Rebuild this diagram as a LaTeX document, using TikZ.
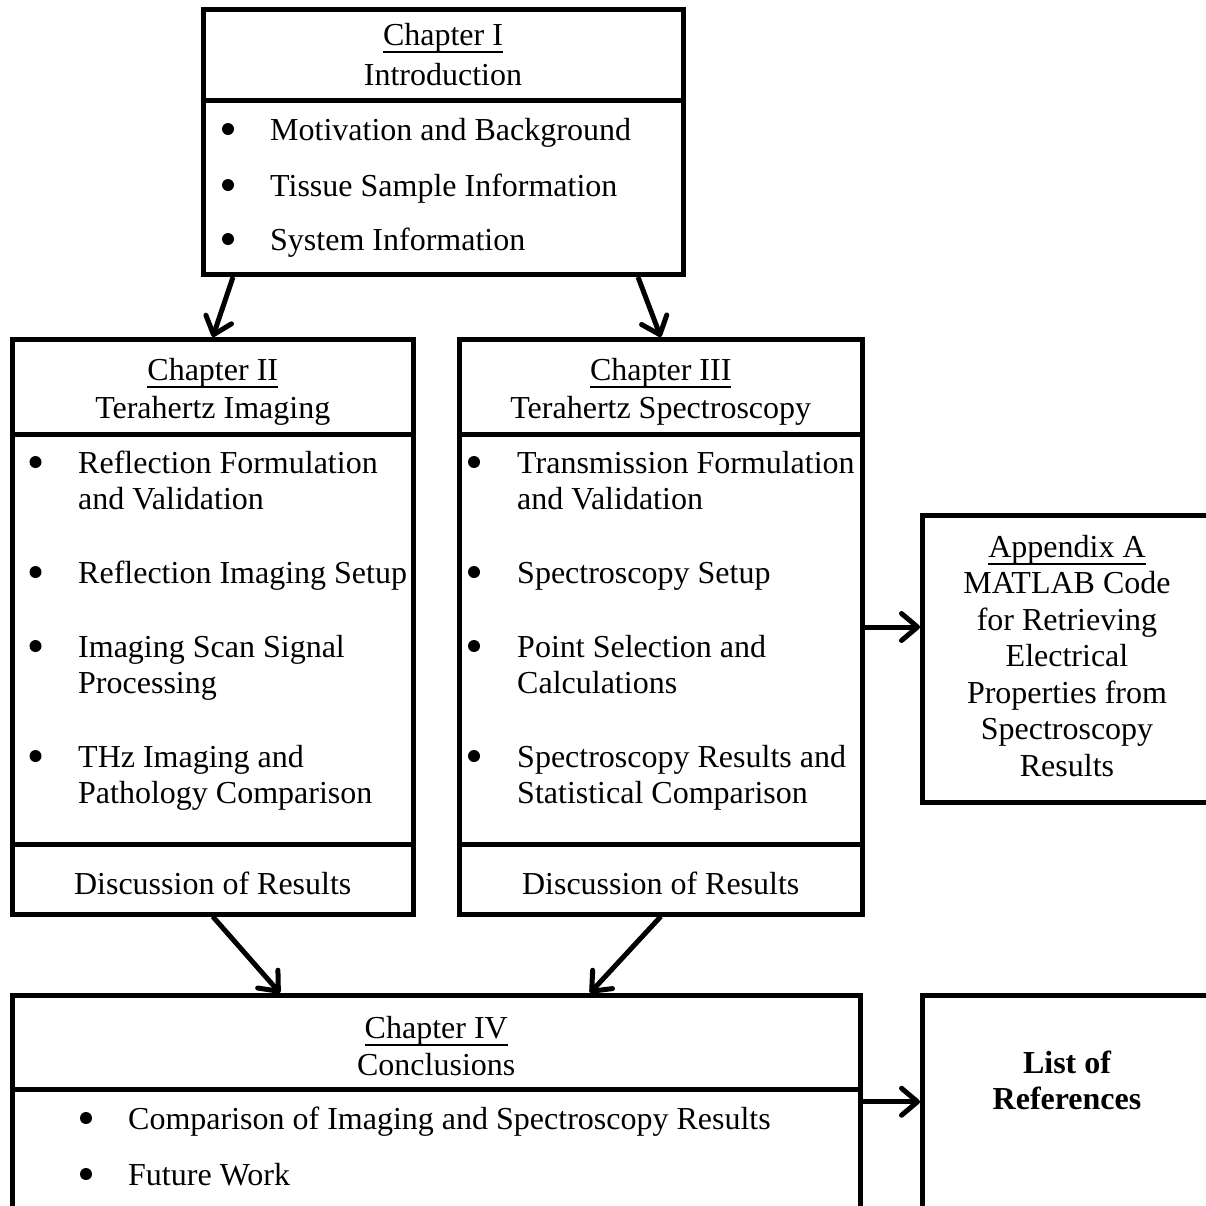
\documentclass[tikz,border=0pt]{standalone}
\usepackage{fontspec}
\setmainfont{Liberation Serif}
\usetikzlibrary{arrows.meta,calc}
\newlength\ulw
\newcommand\myul[1]{\settowidth\ulw{#1}\rlap{\rule[-7.5pt]{\ulw}{2pt}}#1}
\newcommand\mlines[2][l]{\begin{tabular}[t]{@{}#1@{}}#2\end{tabular}}
\begin{document}
\begin{tikzpicture}[x=1pt,y=-1pt,
  box/.style={draw, line width=5pt, rectangle, inner sep=0pt},
  sepline/.style={line width=5pt},
  txt/.style={inner sep=0pt, anchor=base, font=\fontsize{32}{36.5}\selectfont},
  dot/.style={circle, fill, inner sep=0pt, minimum size=12pt},
  itm/.style={txt, anchor=base west},
  arr/.style={line width=5pt, -{Straight Barb[length=16pt,width=27pt,line cap=round,line join=round]}}]
\path[use as bounding box, fill=white] (0,0) rectangle (1206,1205);
\clip (0,0) rectangle (1206,1205);

% boxes
\node[box, minimum width=480pt, minimum height=265pt] (ch1) at (443,142) {};
\node[box, minimum width=401.5pt, minimum height=574.5pt] (ch2) at (212.75,626.75) {};
\node[box, minimum width=402.5pt, minimum height=574.5pt] (ch3) at (660.75,626.75) {};
\node[box, minimum width=286pt, minimum height=287pt] (appx) at (1065.5,659) {};
\node[box, minimum width=848.5pt, minimum height=212.5pt] (ch4) at (436.25,1101.75) {};
\node[box, minimum width=286pt, minimum height=212.5pt] (refs) at (1065.5,1101.75) {};

% separator levels
\coordinate (s1) at (0,100);
\coordinate (s2) at (0,434.5);
\coordinate (s3) at (0,844);
\coordinate (s4) at (0,1089.5);
\coordinate (yA) at (0,627);
\draw[sepline] (ch1.west |- s1) -- (ch1.east |- s1);
\draw[sepline] (ch2.west |- s2) -- (ch2.east |- s2);
\draw[sepline] (ch2.west |- s3) -- (ch2.east |- s3);
\draw[sepline] (ch3.west |- s2) -- (ch3.east |- s2);
\draw[sepline] (ch3.west |- s3) -- (ch3.east |- s3);
\draw[sepline] (ch4.west |- s4) -- (ch4.east |- s4);

% Chapter I
\node[txt] (t1a) at (443,45) {\myul{Chapter I}};
\node[txt] (t1b) at (443,85) {Introduction};
\node[dot] (b1a) at (228,129) {};
\node[itm] (i1a) at (270,140) {Motivation and Background};
\node[dot] (b1b) at (228,185) {};
\node[itm] (i1b) at (270,196) {Tissue Sample Information};
\node[dot] (b1c) at (228,239) {};
\node[itm] (i1c) at (270,250) {System Information};

% Chapter II
\node[txt] (t2a) at (212.75,380) {\myul{Chapter II}};
\node[txt] (t2b) at (212.75,418) {Terahertz Imaging};
\node[dot] (b2a) at (35.5,462) {};
\node[itm] (i2a) at (78,473) {\mlines{Reflection Formulation\\and Validation}};
\node[dot] (b2b) at (35.5,572) {};
\node[itm] (i2b) at (78,583) {Reflection Imaging Setup};
\node[dot] (b2c) at (35.5,646) {};
\node[itm] (i2c) at (78,657) {\mlines{Imaging Scan Signal\\Processing}};
\node[dot] (b2d) at (35.5,756) {};
\node[itm] (i2d) at (78,767) {\mlines{THz Imaging and\\Pathology Comparison}};
\node[txt] (t2c) at (212.75,894) {Discussion of Results};

% Chapter III
\node[txt] (t3a) at (660.75,380) {\myul{Chapter III}};
\node[txt] (t3b) at (660.75,418) {Terahertz Spectroscopy};
\node[dot] (b3a) at (474,462) {};
\node[itm] (i3a) at (517,473) {\mlines{Transmission Formulation\\and Validation}};
\node[dot] (b3b) at (474,572) {};
\node[itm] (i3b) at (517,583) {Spectroscopy Setup};
\node[dot] (b3c) at (474,646) {};
\node[itm] (i3c) at (517,657) {\mlines{Point Selection and\\Calculations}};
\node[dot] (b3d) at (474,756) {};
\node[itm] (i3d) at (517,767) {\mlines{Spectroscopy Results and\\Statistical Comparison}};
\node[txt] (t3c) at (660.75,894) {Discussion of Results};

% Appendix A
\node[txt] (ta) at (1067,557) {\mlines[c]{\myul{Appendix A}\\MATLAB Code\\for Retrieving\\Electrical\\Properties from\\Spectroscopy\\Results}};

% Chapter IV
\node[txt] (t4a) at (436.25,1038) {\myul{Chapter IV}};
\node[txt] (t4b) at (436.25,1075) {Conclusions};
\node[dot] (b4a) at (86,1118) {};
\node[itm] (i4a) at (128,1129) {Comparison of Imaging and Spectroscopy Results};
\node[dot] (b4b) at (86,1174) {};
\node[itm] (i4b) at (128,1185) {Future Work};

% References
\node[txt] (tr) at (1067,1073) {\bfseries\mlines[c]{List of\\References}};

% connectors
\draw[arr] ($(ch1.south west)+(32.5,0)$) -- (ch2.north);
\draw[arr] ($(ch1.south west)+(437.5,0)$) -- (ch3.north);
\draw[arr] (ch2.south) -- ($(ch4.north west)+(270.5,0)$);
\draw[arr] (ch3.south) -- ($(ch4.north west)+(580.5,0)$);
\draw[arr] (ch3.east |- yA) -- (appx.west |- yA);
\draw[arr] (ch4.east |- refs.west) -- (refs.west);
\end{tikzpicture}
\end{document}
